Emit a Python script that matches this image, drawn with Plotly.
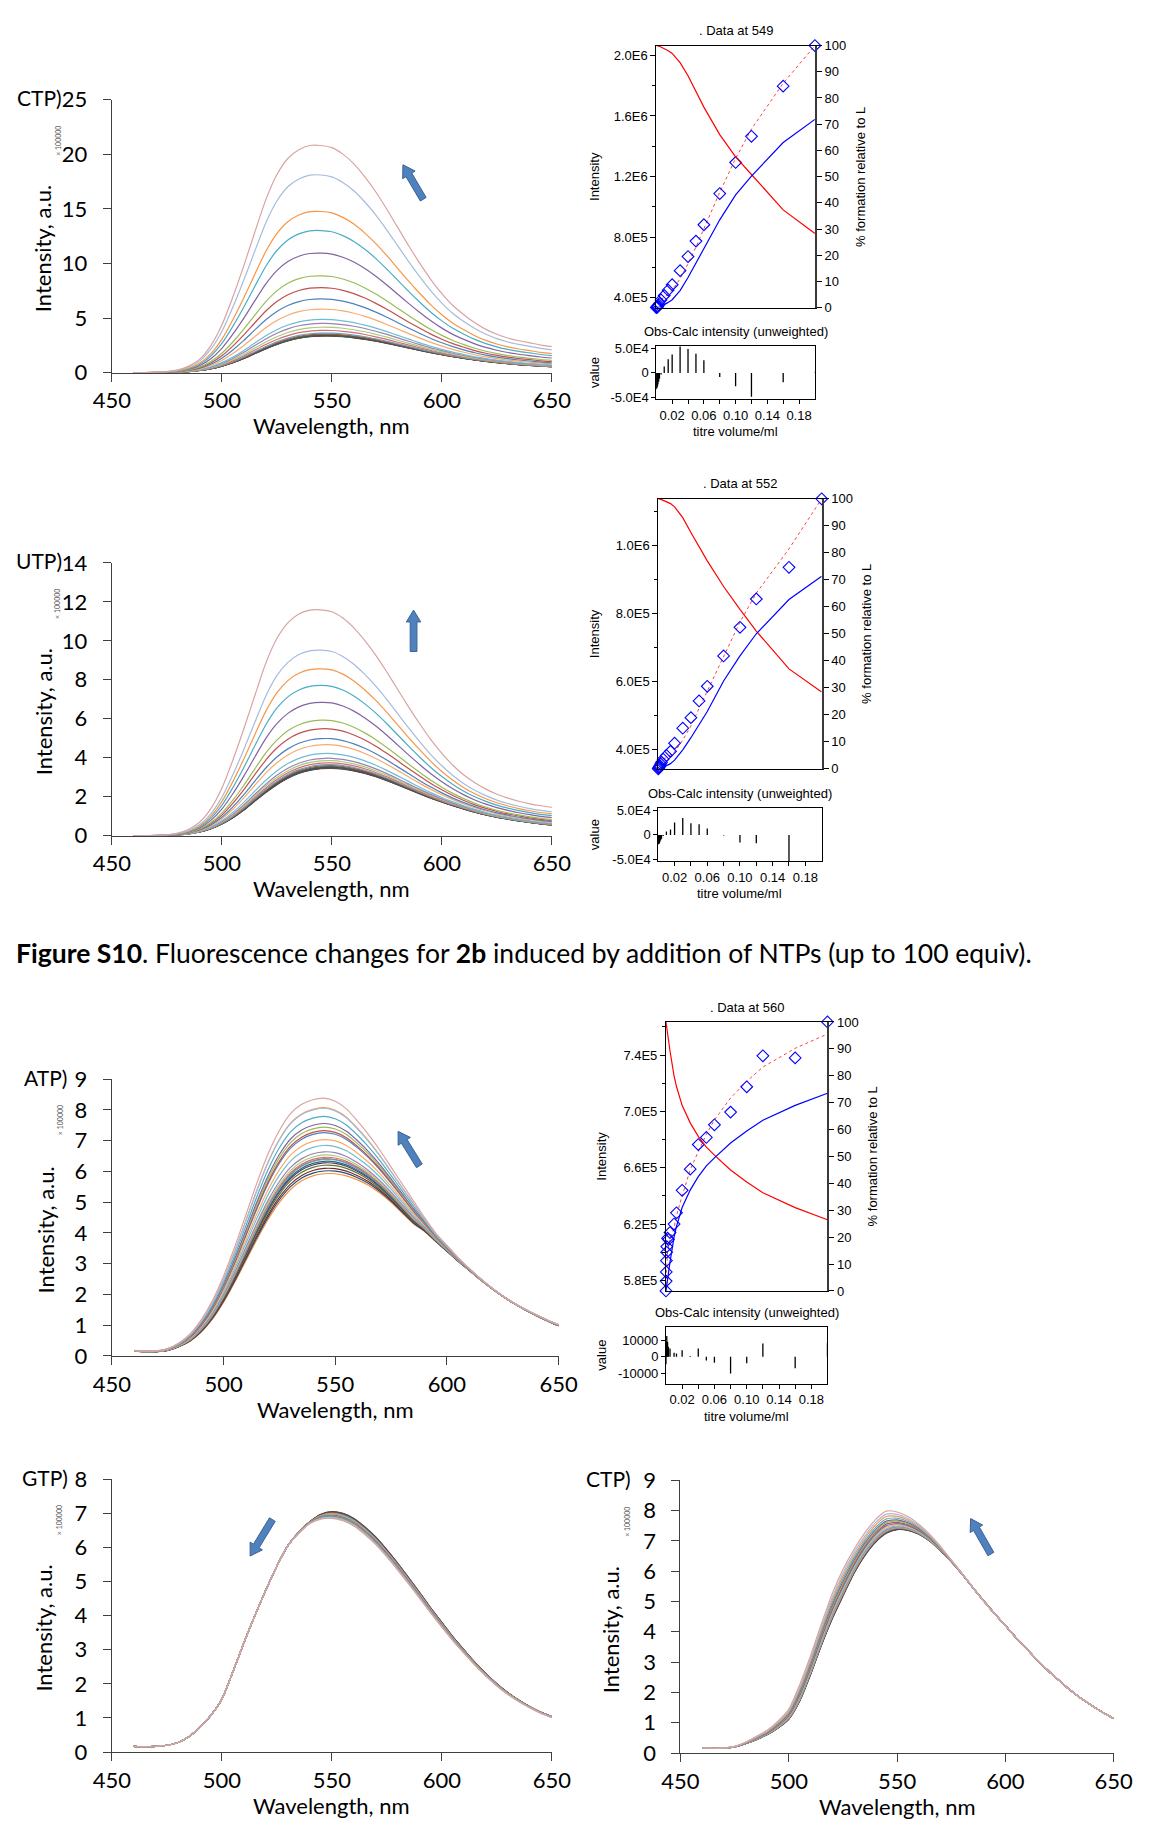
import numpy as np
import plotly.graph_objects as go

W, H = 1154, 1839

# ---------------------------------------------------------------- spectra data
wl = list(range(460, 651, 5))  # nm

# CTP (first row): first and last spectrum of the titration, x100000 a.u.
ctp_first = [0.0, 0.0, 0.01, 0.02, 0.05, 0.1, 0.2, 0.36, 0.6, 0.92, 1.32, 1.78, 2.22, 2.62, 2.95,
             3.2, 3.34, 3.4, 3.4, 3.34, 3.24, 3.1, 2.92, 2.72, 2.5, 2.28, 2.06, 1.85, 1.66, 1.48,
             1.32, 1.17, 1.04, 0.93, 0.83, 0.74, 0.67, 0.6, 0.55]
ctp_last = [0.0, 0.01, 0.04, 0.1, 0.25, 0.6, 1.25, 2.5, 4.4, 7.0, 9.9, 13.0, 16.0, 18.3, 19.8,
            20.6, 21.0, 21.0, 20.8, 20.2, 19.3, 18.1, 16.7, 15.1, 13.4, 11.7, 10.1, 8.6, 7.3, 6.2,
            5.35, 4.6, 4.0, 3.55, 3.2, 2.95, 2.75, 2.55, 2.4]

# UTP
utp_first = [0.0, 0.0, 0.01, 0.02, 0.05, 0.1, 0.2, 0.36, 0.6, 0.92, 1.32, 1.78, 2.22, 2.62, 2.95,
             3.2, 3.36, 3.44, 3.46, 3.42, 3.33, 3.2, 3.03, 2.83, 2.61, 2.38, 2.15, 1.93, 1.73, 1.54,
             1.37, 1.21, 1.07, 0.95, 0.85, 0.76, 0.68, 0.61, 0.56]
utp_last = [0.0, 0.01, 0.02, 0.05, 0.14, 0.33, 0.7, 1.38, 2.42, 3.85, 5.45, 7.15, 8.8, 10.05, 10.85,
            11.3, 11.5, 11.52, 11.42, 11.1, 10.6, 9.95, 9.2, 8.35, 7.45, 6.55, 5.7, 4.9, 4.2, 3.6,
            3.1, 2.7, 2.38, 2.12, 1.92, 1.76, 1.63, 1.53, 1.45]

# ATP
atp_first = [0.16, 0.14, 0.14, 0.18, 0.3, 0.48, 0.78, 1.2, 1.75, 2.4, 3.1, 3.8, 4.45, 5.0, 5.42,
             5.7, 5.86, 5.93, 5.93, 5.86, 5.73, 5.55, 5.3, 5.0, 4.65, 4.3, 4.05, 3.72, 3.4, 3.08,
             2.78, 2.48, 2.2, 1.94, 1.71, 1.5, 1.31, 1.14, 0.98]
atp_last = [0.18, 0.16, 0.17, 0.24, 0.42, 0.72, 1.18, 1.8, 2.6, 3.55, 4.6, 5.65, 6.6, 7.35, 7.9,
            8.2, 8.35, 8.4, 8.3, 8.05, 7.65, 7.2, 6.7, 6.15, 5.6, 5.05, 4.5, 4.0, 3.6, 3.2,
            2.85, 2.52, 2.22, 1.95, 1.72, 1.52, 1.34, 1.17, 1.02]

# GTP
gtp_first = [0.17, 0.16, 0.17, 0.2, 0.28, 0.45, 0.72, 1.08, 1.55, 2.35, 3.2, 4.0, 4.75, 5.45, 6.05,
             6.45, 6.75, 6.97, 7.05, 7.0, 6.85, 6.6, 6.3, 5.93, 5.53, 5.1, 4.67, 4.22, 3.8, 3.38,
             3.0, 2.63, 2.3, 2.0, 1.74, 1.52, 1.33, 1.17, 1.04]
gtp_last = [0.17, 0.16, 0.17, 0.2, 0.28, 0.45, 0.72, 1.08, 1.55, 2.35, 3.2, 4.0, 4.75, 5.45, 6.05,
            6.42, 6.7, 6.83, 6.85, 6.78, 6.63, 6.38, 6.08, 5.72, 5.33, 4.92, 4.5, 4.07, 3.66, 3.26,
            2.9, 2.55, 2.23, 1.94, 1.69, 1.48, 1.3, 1.14, 1.01]
gtp_peak = [7.05, 7.05, 7.04, 7.04, 7.03, 7.03, 7.02, 7.01, 7.0, 6.99, 6.98, 6.97, 6.96, 6.95,
            6.94, 6.93, 6.92, 6.91, 6.9, 6.88, 6.87, 6.85]

# CTP (last row)
ctpb_first = [0.17, 0.15, 0.16, 0.2, 0.3, 0.42, 0.58, 0.78, 1.05, 1.6, 2.45, 3.4, 4.25, 5.0, 5.75,
              6.35, 6.8, 7.1, 7.25, 7.25, 7.15, 6.95, 6.65, 6.3, 5.9, 5.45, 5.02, 4.6, 4.2, 3.8,
              3.42, 3.05, 2.7, 2.38, 2.07, 1.8, 1.56, 1.34, 1.14]
ctpb_last = [0.18, 0.16, 0.17, 0.22, 0.36, 0.55, 0.75, 1.05, 1.45, 2.25, 3.2, 4.25, 5.25, 6.05, 6.7,
             7.25, 7.7, 7.98, 7.95, 7.8, 7.55, 7.22, 6.82, 6.37, 5.92, 5.46, 5.01, 4.6, 4.2, 3.8,
             3.42, 3.05, 2.7, 2.38, 2.07, 1.8, 1.56, 1.34, 1.14]
ctpb_peak = [7.25, 7.26, 7.27, 7.28, 7.29, 7.3, 7.31, 7.32, 7.34, 7.36, 7.4, 7.45, 7.5, 7.55,
             7.6, 7.65, 7.72, 7.8, 7.88, 7.98]

# ---------------------------------------------------------------- fit data
# titre volume / ml
t1 = [0, 0.0005, 0.001, 0.0015, 0.002, 0.003, 0.004, 0.006, 0.01, 0.015, 0.02, 0.03, 0.04, 0.05,
      0.06, 0.08, 0.10, 0.12, 0.16, 0.20]
obs1 = [3.35e5, 3.37e5, 3.39e5, 3.42e5, 3.46e5, 3.53e5, 3.62e5, 3.86e5, 4.15e5, 4.50e5, 4.86e5,
        5.79e5, 6.72e5, 7.74e5, 8.82e5, 10.88e5, 12.93e5, 14.66e5, 17.97e5, 20.65e5]
calc1 = [3.68e5, 3.68e5, 3.68e5, 3.68e5, 3.69e5, 3.71e5, 3.74e5, 3.89e5, 4.02e5, 4.225e5, 4.49e5,
         5.26e5, 6.24e5, 7.355e5, 8.565e5, 10.96e5, 13.20e5, 15.14e5, 18.16e5, 20.64e5]
resid1 = [-3.3e4, -3.1e4, -2.9e4, -2.6e4, -2.3e4, -1.8e4, -1.2e4, -0.3e4, 1.3e4, 2.75e4, 3.7e4,
          5.3e4, 4.8e4, 3.85e4, 2.55e4, -0.8e4, -2.7e4, -4.8e4, -1.9e4, 0.1e4]
free1 = [100, 100, 100, 99.95, 99.9, 99.8, 99.7, 99.4, 99.0, 98.0, 97.0, 93.5, 88.5, 82.5, 76.5,
         66.0, 57.5, 50.8, 37.3, 28.3]
cplx1 = [0, 0.01, 0.02, 0.04, 0.06, 0.12, 0.2, 0.45, 1.0, 2.0, 3.0, 6.5, 11.5, 17.0, 23.0, 33.5,
         43.0, 50.2, 63.0, 71.8]

t2 = t1
obs2 = [3.44e5, 3.46e5, 3.48e5, 3.50e5, 3.53e5, 3.58e5, 3.63e5, 3.72e5, 3.83e5, 3.95e5, 4.19e5,
        4.63e5, 4.94e5, 5.43e5, 5.86e5, 6.75e5, 7.59e5, 8.42e5, 9.35e5, 11.36e5]
calc2 = [3.64e5, 3.65e5, 3.66e5, 3.66e5, 3.67e5, 3.69e5, 3.71e5, 3.74e5, 3.76e5, 3.835e5, 3.93e5,
         4.28e5, 4.70e5, 5.21e5, 5.725e5, 6.76e5, 7.745e5, 8.59e5, 9.89e5, 11.36e5]
resid2 = [-2.0e4, -1.9e4, -1.8e4, -1.6e4, -1.4e4, -1.1e4, -0.8e4, -0.2e4, 0.7e4, 1.15e4, 2.6e4,
          3.5e4, 2.4e4, 2.2e4, 1.35e4, -0.1e4, -1.55e4, -1.7e4, -5.4e4, 0.0]
free2 = [100, 100, 100, 99.95, 99.9, 99.8, 99.7, 99.4, 99.0, 98.2, 97.0, 93.0, 87.5, 82.0, 77.0,
         67.5, 59.0, 51.0, 37.0, 28.4]
cplx2 = [0, 0.01, 0.02, 0.04, 0.06, 0.12, 0.2, 0.45, 1.0, 1.9, 3.2, 7.0, 11.5, 16.5, 21.2, 32.5,
         41.8, 50.0, 62.7, 71.3]

t3 = [0, 0.0002, 0.0004, 0.0006, 0.0008, 0.001, 0.002, 0.003, 0.005, 0.01, 0.013, 0.02, 0.03,
      0.04, 0.05, 0.06, 0.08, 0.10, 0.12, 0.16, 0.20]
obs3 = [5.725e5, 5.795e5, 5.86e5, 5.94e5, 6.00e5, 6.04e5, 6.10e5, 6.09e5, 6.14e5, 6.20e5, 6.28e5,
        6.44e5, 6.59e5, 6.765e5, 6.815e5, 6.905e5, 6.995e5, 7.175e5, 7.395e5, 7.38e5, 7.635e5]
calc3 = [5.77e5, 5.775e5, 5.82e5, 5.87e5, 5.91e5, 5.915e5, 6.01e5, 6.03e5, 6.09e5, 6.175e5, 6.26e5,
         6.40e5, 6.585e5, 6.715e5, 6.837e5, 6.94e5, 7.095e5, 7.213e5, 7.315e5, 7.448e5, 7.55e5]
resid3 = [-4500, 2000, 4000, 7000, 9000, 12500, 9000, 6000, 5000, 2500, 2000, 4000, 500, 5000,
          -2200, -3500, -10000, -3800, 8000, -6800, 8500]
free3 = [100, 99.5, 99, 98.5, 98, 97.5, 95.2, 93.2, 89.2, 80, 76, 69, 62.5, 57.5, 53.5, 50.5, 45,
         40.5, 36.5, 31, 26.5]
cplx3 = [0, 0.5, 1.0, 1.5, 2.0, 2.5, 4.8, 6.8, 10.8, 20, 24, 31, 37.5, 42.5, 46.5, 49.5, 55, 59.5,
         63.5, 69, 73.5]

# ---------------------------------------------------------------- styling
SPEC_FONT = dict(family="Lato, 'Open Sans', sans-serif", size=22, color="#000000")
LABEL_FONT = dict(family="Lato, 'Open Sans', sans-serif", size=21, color="#000000")
FIT_FONT = dict(family="'Liberation Sans', Arial, sans-serif", size=13, color="#000000")
AXIS_COL = "#404040"

# Office-style series colours, 26 series per cycle
PALETTE = ["#4A7EBB", "#BE4B48", "#98B954", "#7D60A0", "#46AAC5", "#F69240",
           "#2C4D75", "#772C2A", "#5F7530", "#4D3B62", "#276A7C", "#B65708",
           "#729ACA", "#CD7371", "#AFC97A", "#9983B5", "#6FBDD1", "#F9AB6B",
           "#4F81BD", "#C0504D", "#9BBB59", "#8064A2", "#4BACC6", "#F79646",
           "#A5BCDB", "#D9A3A2"]

fig = go.Figure()
layout = {}
annotations = []
shapes = []
counters = {"x": 0, "y": 0}


def px(x):
    return x / W


def py(y):
    return 1 - y / H


def new_axis(kind):
    counters[kind] += 1
    k = counters[kind]
    return k, ("" if k == 1 else str(k))


def text(x, y, s, font, angle=0, xanchor="center", yanchor="middle"):
    annotations.append(dict(x=px(x), y=py(y), xref="paper", yref="paper", text=s,
                            showarrow=False, font=font, textangle=angle, borderpad=0,
                            xanchor=xanchor, yanchor=yanchor))


def block_arrow(tail, tip, body=7.0, head_w=15.0, head_l=12.0):
    tx, ty = tail
    hx, hy = tip
    L = np.hypot(hx - tx, hy - ty)
    ux, uy = (hx - tx) / L, (hy - ty) / L
    nx, ny = -uy, ux
    bx, by = hx - ux * head_l, hy - uy * head_l
    pts = [(tx + nx * body / 2, ty + ny * body / 2), (bx + nx * body / 2, by + ny * body / 2),
           (bx + nx * head_w / 2, by + ny * head_w / 2), (hx, hy),
           (bx - nx * head_w / 2, by - ny * head_w / 2), (bx - nx * body / 2, by - ny * body / 2),
           (tx - nx * body / 2, ty - ny * body / 2)]
    path = "M " + " L ".join(f"{px(x):.5f} {py(y):.5f}" for x, y in pts) + " Z"
    shapes.append(dict(type="path", path=path, xref="paper", yref="paper",
                       fillcolor="#4F81BD", line=dict(color="#3B6396", width=1)))


def mix_curves(first, last, levels, at):
    first = np.array(first, dtype=float)
    last = np.array(last, dtype=float)
    f0 = np.interp(at, wl, first)
    f1 = np.interp(at, wl, last)
    return [first + (v - f0) / (f1 - f0) * (last - first) for v in levels]


def spectra_panel(xd, yd, ymax, curves, label, label_right, exp_x, title_x, arrow):
    kx, sx = new_axis("x")
    ky, sy = new_axis("y")
    ystep = 5 if ymax > 15 else (2 if ymax > 10 else 1)
    layout["xaxis" + sx] = dict(domain=[px(xd[0]), px(xd[1])], anchor="y" + sy, range=[450, 650],
                                tickvals=[450, 500, 550, 600, 650], showgrid=False, zeroline=False,
                                showline=True, linecolor=AXIS_COL, linewidth=1.3, ticks="outside",
                                ticklen=8, tickwidth=1.3, tickcolor=AXIS_COL, tickfont=SPEC_FONT,
                                ticklabelstandoff=0)
    layout["yaxis" + sy] = dict(domain=[py(yd[1]), py(yd[0])], anchor="x" + sx, range=[0, ymax],
                                tickvals=list(range(0, ymax + 1, ystep)),
                                showgrid=False, zeroline=False, showline=True, linecolor=AXIS_COL,
                                linewidth=1.3, ticks="outside", ticklen=8, tickwidth=1.3,
                                tickcolor=AXIS_COL, tickfont=SPEC_FONT, ticklabelstandoff=11)
    n = len(curves)
    for i, c in enumerate(curves):
        fig.add_trace(go.Scatter(x=wl, y=c, mode="lines", xaxis="x" + sx, yaxis="y" + sy,
                                 line=dict(color=PALETTE[(26 - n + i) % 26], width=1.2,
                                           shape="spline", smoothing=0.6),
                                 hoverinfo="skip", showlegend=False))
    cx = (xd[0] + xd[1]) / 2
    text(label_right, yd[0] - 2, label, LABEL_FONT, xanchor="right")
    text(exp_x, yd[0] + 42, "× 100000", dict(family="Lato, sans-serif", size=7, color="#555"), angle=-90)
    text(title_x, (yd[0] + yd[1]) / 2 + 13, "Intensity, a.u.", SPEC_FONT, angle=-90)
    text(cx, yd[1] + 54, "Wavelength, nm", SPEC_FONT)
    block_arrow(*arrow)


def sci(v):
    if v == 0:
        return "0"
    m, e = f"{v:.1E}".split("E")
    return f"{m}E{int(e)}"


def fit_panel(box, rbox, t, obs, calc, resid, free, cplx, majors, rticks, rlabels, rrange,
              title, lab_x):
    lo, hi = min(obs), max(obs)
    step = majors[1] - majors[0]
    minors = [v + step / 2 for v in [majors[0] - step] + majors if lo <= v + step / 2 <= hi]
    # main panel
    kx, sx = new_axis("x")
    ky, sy = new_axis("y")
    kr, sr = new_axis("y")
    layout["xaxis" + sx] = dict(domain=[px(box[0]), px(box[1])], anchor="y" + sy, range=[0, 0.2],
                                showticklabels=False, ticks="", showgrid=False, zeroline=False,
                                showline=True, mirror=True, linecolor="#000", linewidth=1)
    layout["yaxis" + sy] = dict(domain=[py(box[3]), py(box[2])], anchor="x" + sx, range=[lo, hi],
                                tickvals=majors, ticktext=[sci(v) for v in majors], ticks="outside",
                                ticklen=5, tickcolor="#000", tickfont=FIT_FONT, showgrid=False,
                                zeroline=False, showline=True, linecolor="#000", linewidth=1,
                                minor=dict(tickvals=minors, ticks="outside", ticklen=3, tickcolor="#000"))
    layout["yaxis" + sr] = dict(overlaying="y" + sy, anchor="x" + sx, side="right", range=[0, 100],
                                tickvals=list(range(0, 101, 10)), ticks="outside", ticklen=5,
                                tickcolor="#000", tickfont=FIT_FONT, showgrid=False, zeroline=False,
                                showline=True, linecolor="#3a3a3a", linewidth=2)
    fig.add_trace(go.Scatter(x=t, y=free, mode="lines", xaxis="x" + sx, yaxis="y" + sr,
                             line=dict(color="#FF0000", width=1.2), hoverinfo="skip", showlegend=False))
    fig.add_trace(go.Scatter(x=t, y=cplx, mode="lines", xaxis="x" + sx, yaxis="y" + sr,
                             line=dict(color="#0000FF", width=1.2), hoverinfo="skip", showlegend=False))
    fig.add_trace(go.Scatter(x=t, y=calc, mode="lines", xaxis="x" + sx, yaxis="y" + sy,
                             line=dict(color="#FF4040", width=1, dash="dot"), hoverinfo="skip",
                             showlegend=False))
    fig.add_trace(go.Scatter(x=t, y=obs, mode="markers", xaxis="x" + sx, yaxis="y" + sy,
                             marker=dict(symbol="diamond-open", size=9, color="#0000FF",
                                         line=dict(width=1.1, color="#0000FF")),
                             cliponaxis=False, hoverinfo="skip", showlegend=False))
    # residual panel
    kx2, sx2 = new_axis("x")
    ky2, sy2 = new_axis("y")
    xt = [round(0.02 * k, 2) for k in range(1, 10)]
    layout["xaxis" + sx2] = dict(domain=[px(rbox[0]), px(rbox[1])], anchor="y" + sy2, range=[0, 0.2],
                                 tickvals=xt, ticktext=[f"{v:.2f}" if k % 2 == 0 else ""
                                                        for k, v in enumerate(xt)],
                                 ticks="outside", ticklen=4, tickcolor="#000", tickfont=FIT_FONT,
                                 showgrid=False, zeroline=False, showline=True, mirror=True,
                                 linecolor="#000", linewidth=1)
    layout["yaxis" + sy2] = dict(domain=[py(rbox[3]), py(rbox[2])], anchor="x" + sx2, range=rrange,
                                 tickvals=rticks, ticktext=rlabels, ticks="outside", ticklen=4,
                                 tickcolor="#000", tickfont=FIT_FONT, showgrid=False, zeroline=False,
                                 showline=True, mirror=True, linecolor="#000", linewidth=1)
    bx, by = [], []
    for ti, ri in zip(t, resid):
        bx += [ti, ti, None]
        by += [0, ri, None]
    fig.add_trace(go.Scatter(x=bx, y=by, mode="lines", xaxis="x" + sx2, yaxis="y" + sy2,
                             line=dict(color="#000", width=1.3), hoverinfo="skip", showlegend=False))
    cx = (box[0] + box[1]) / 2
    text(cx, box[2] - 15, ". Data at " + title, FIT_FONT)
    text(lab_x, (box[2] + box[3]) / 2, "Intensity", FIT_FONT, angle=-90)
    text(box[1] + 47, (box[2] + box[3]) / 2, "% formation relative to L", FIT_FONT, angle=-90)
    text(cx, rbox[2] - 15, "Obs-Calc intensity (unweighted)", FIT_FONT)
    text(lab_x, (rbox[2] + rbox[3]) / 2, "value", FIT_FONT, angle=-90)
    text(cx, rbox[3] + 33, "titre volume/ml", FIT_FONT)


# ---------------------------------------------------------------- panels
spectra_panel((96, 551), (87, 364), 25,
              mix_curves(ctp_first, ctp_last, [v / 1e5 for v in obs1], 549),
              "CTP)", 46, 40, 25, ((418, 188), (397, 153)))
fit_panel((659, 823, 32, 298), (659, 823, 337, 391), t1, obs1, calc1, resid1, free1, cplx1,
          [4e5, 8e5, 1.2e6, 1.6e6, 2.0e6], [-5e4, 0, 5e4], [sci(v) for v in [-5e4, 0, 5e4]],
          [-5.3e4, 5.4e4], "549", 595)

spectra_panel((96, 551), (557, 834), 14,
              mix_curves(utp_first, utp_last, [v / 1e5 for v in obs2], 552),
              "UTP)", 46, 40, 25, ((408, 647), (408, 605)))
fit_panel((661, 830, 492, 766), (661, 830, 806, 860), t2, obs2, calc2, resid2, free2, cplx2,
          [4e5, 6e5, 8e5, 1.0e6], [-5e4, 0, 5e4], [sci(v) for v in [-5e4, 0, 5e4]],
          [-5.47e4, 5.54e4], "552", 595)

text(-4, 953, "<b>Figure S10</b>. Fluorescence changes for <b>2b</b> induced by addition of NTPs "
     "(up to 100 equiv).", dict(family="Lato, sans-serif", size=26.5, color="#000"), xanchor="left")

spectra_panel((96, 558), (1081, 1362), 9,
              mix_curves(atp_first, atp_last, [v / 1e5 for v in obs3], 560),
              "ATP)", 51, 42, 27, ((414, 1169), (392, 1134)))
fit_panel((669, 836, 1023, 1296), (669, 836, 1333, 1390), t3, obs3, calc3, resid3, free3, cplx3,
          [5.8e5, 6.2e5, 6.6e5, 7.0e5, 7.4e5], [-10000, 0, 10000], ["-10000", "0", "10000"],
          [-1.6e4, 1.76e4], "560", 602)

spectra_panel((96, 551), (1487, 1764), 8,
              mix_curves(gtp_first, gtp_last, gtp_peak, 550),
              "GTP)", 52, 41, 25, ((262, 1528), (239, 1565)))
spectra_panel((684, 1132), (1488, 1765), 9,
              mix_curves(ctpb_first, ctpb_last, ctpb_peak, 545),
              "CTP)", 634, 628, 612, ((1005, 1563), (984, 1527)))

fig.update_layout(width=W, height=H, margin=dict(l=0, r=0, t=0, b=0), autosize=False,
                  paper_bgcolor="white", plot_bgcolor="white", showlegend=False,
                  annotations=annotations, shapes=shapes, **layout)
fig.write_html("out.html")
